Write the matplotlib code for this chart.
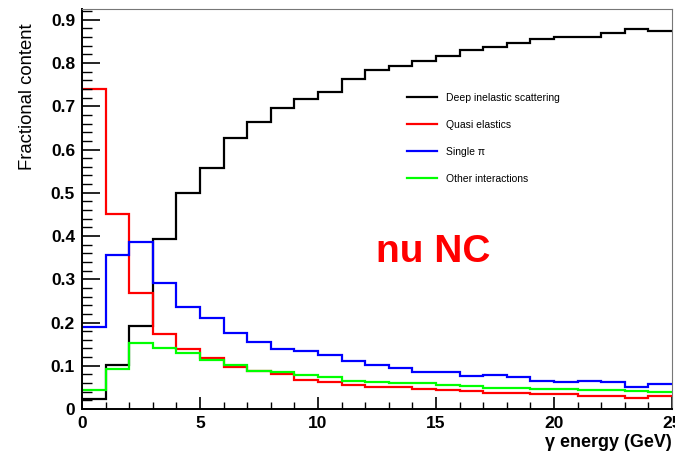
import matplotlib
matplotlib.use("Agg")
import matplotlib.pyplot as plt
from matplotlib.ticker import MultipleLocator, FuncFormatter
import numpy as np

plt.rcParams['font.family'] = ['Liberation Sans', 'DejaVu Sans']

# Energy bins, 1 GeV wide, 0 to 25 GeV
edges = np.arange(0, 26, 1)

# Fraction of events per bin for each interaction type
dis = [0.022, 0.101, 0.193, 0.393, 0.499, 0.557, 0.627, 0.664, 0.695, 0.717,
       0.732, 0.763, 0.783, 0.794, 0.805, 0.816, 0.830, 0.838, 0.846, 0.855,
       0.861, 0.861, 0.869, 0.879, 0.875]
qe = [0.740, 0.452, 0.269, 0.173, 0.138, 0.119, 0.098, 0.089, 0.080, 0.067,
      0.063, 0.055, 0.052, 0.052, 0.046, 0.044, 0.042, 0.036, 0.036, 0.034,
      0.034, 0.031, 0.031, 0.026, 0.030]
single_pi = [0.190, 0.355, 0.387, 0.291, 0.237, 0.211, 0.175, 0.156, 0.139, 0.134,
             0.124, 0.112, 0.101, 0.095, 0.086, 0.086, 0.076, 0.079, 0.073, 0.065,
             0.063, 0.064, 0.062, 0.052, 0.057]
other = [0.043, 0.092, 0.152, 0.141, 0.129, 0.114, 0.102, 0.089, 0.086, 0.078,
         0.075, 0.065, 0.063, 0.059, 0.059, 0.055, 0.053, 0.048, 0.048, 0.046,
         0.046, 0.044, 0.044, 0.042, 0.040]

labels = ["Deep inelastic scattering", "Quasi elastics", "Single \u03c0", "Other interactions"]
colors = ["black", "#ff0000", "#0000ff", "#00ff00"]

fig = plt.figure(figsize=(6.75, 4.61), dpi=100)
ax = fig.add_axes([82 / 675, 52 / 461, 590 / 675, 400 / 461])

for vals, lab, col in zip([dis, qe, single_pi, other], labels, colors):
    ax.stairs(vals, edges, color=col, lw=1.6, label=lab, baseline=None)

ax.set_xlim(0, 25)
ax.set_ylim(0, 0.925)

# ROOT-like frame: heavy left/bottom axes, thin grey top/right
for s in ["top", "right"]:
    ax.spines[s].set_color("#777777")
    ax.spines[s].set_linewidth(0.8)
for s in ["left", "bottom"]:
    ax.spines[s].set_color("black")
    ax.spines[s].set_linewidth(1.4)

ax.xaxis.set_major_locator(MultipleLocator(5))
ax.xaxis.set_minor_locator(MultipleLocator(1))
ax.yaxis.set_major_locator(MultipleLocator(0.1))
ax.yaxis.set_minor_locator(MultipleLocator(0.02))
ax.yaxis.set_major_formatter(FuncFormatter(lambda v, p: "%g" % round(v, 2)))

ax.tick_params(axis="x", which="major", direction="in", length=9, width=1.2, pad=5)
ax.tick_params(axis="x", which="minor", direction="in", length=5, width=1.0)
ax.tick_params(axis="y", which="major", direction="in", length=13, width=1.2, pad=5)
ax.tick_params(axis="y", which="minor", direction="in", length=7, width=1.0)
for lbl in ax.get_xticklabels() + ax.get_yticklabels():
    lbl.set_fontweight("bold")
    lbl.set_fontsize(12.5)

ax.set_ylabel("Fractional content", fontsize=13.3, loc="top")
ax.yaxis.set_label_coords(-0.078, 0.965)
ax.set_xlabel("\u03b3 energy (GeV)", fontsize=13, fontweight="bold", loc="right")
ax.xaxis.set_label_coords(1.0, -0.063)

# big red title inside the frame (display pixels from bottom-left)
ax.text(376, 461 - 262, "nu NC", transform=None, color="#ff0000", fontsize=28,
        fontweight="bold", ha="left", va="baseline")

ax.legend(loc="upper left", bbox_to_anchor=(407 / 675, 1 - 93 / 461),
          bbox_transform=fig.transFigure, frameon=False, fontsize=7.5,
          handlelength=2.9, handletextpad=0.8, labelspacing=1.62,
          borderpad=0, borderaxespad=0)

fig.savefig("out.png", dpi=100)
